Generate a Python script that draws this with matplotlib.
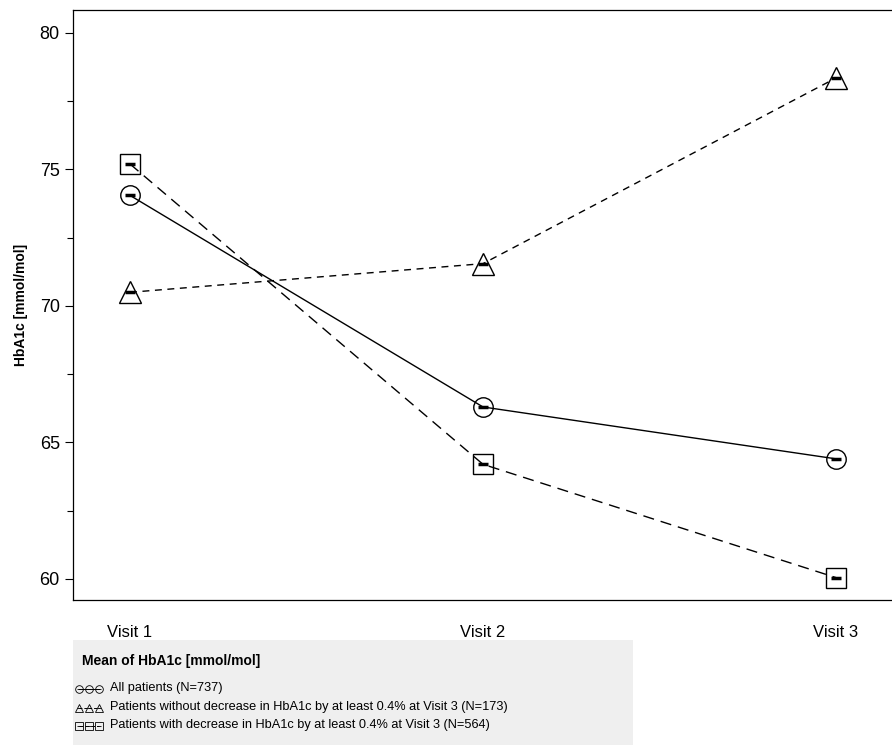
import matplotlib.pyplot as plt
from matplotlib.patches import Rectangle
from matplotlib.lines import Line2D

plt.rcParams['font.family'] = ['Liberation Sans', 'DejaVu Sans']

visits = ['Visit 1', 'Visit 2', 'Visit 3']
all_patients = [74.05, 66.3, 64.4]
no_decrease = [70.5, 71.55, 78.35]
with_decrease = [75.2, 64.2, 60.05]

labels = ['All patients (N=737)',
          'Patients without decrease in HbA1c by at least 0.4% at Visit 3 (N=173)',
          'Patients with decrease in HbA1c by at least 0.4% at Visit 3 (N=564)']

fig = plt.figure(figsize=(8.92, 7.45), dpi=100)
ax = fig.add_axes([73 / 892, 145 / 745, 819 / 892, 590 / 745])

x = [1, 2, 3]
series = [
    (all_patients, 'o', '-', None),
    (no_decrease, '^', '--', (5, 4)),
    (with_decrease, 's', '--', (8, 5)),
]
for vals, mk, ls, dash in series:
    line, = ax.plot(x, vals, color='black', lw=1, ls=ls, marker=mk,
                    markersize=14 if mk != '^' else 16, markerfacecolor='none',
                    markeredgecolor='black', markeredgewidth=1)
    if dash:
        line.set_dashes(dash)
    # mean bar inside the marker
    ax.plot(x, vals, ls='none', marker='_', markersize=7,
            markeredgewidth=2.5, color='black')

ax.set_xlim(1 - 57 / 353, 3 + 56 / 353)
ax.set_ylim(59.23, 80.84)
ax.set_xticks(x)
ax.set_xticklabels(visits, fontsize=12)
ax.tick_params(axis='x', length=0, pad=18)
ax.set_yticks([60, 65, 70, 75, 80])
ax.set_yticks([62.5, 67.5, 72.5, 77.5], minor=True)
ax.tick_params(axis='y', which='major', length=6, labelsize=13, width=0.8)
ax.tick_params(axis='y', which='minor', length=4, width=0.8)
ax.spines['right'].set_visible(False)
for s in ['left', 'top', 'bottom']:
    ax.spines[s].set_linewidth(0.9)
ax.set_ylabel('HbA1c [mmol/mol]', fontsize=10, fontweight='bold', labelpad=8)

# legend box
fig.patches.append(Rectangle((73 / 892, 0), 560 / 892, 105 / 745,
                             transform=fig.transFigure, facecolor='#efefef',
                             edgecolor='none', zorder=0))
fig.text(82 / 892, 1 - 661 / 745, 'Mean of HbA1c [mmol/mol]', fontsize=10,
         fontweight='bold', va='center')

ys = [689, 708, 726]
mks = ['o', '^', 's']
lss = [None, (3, 2), (4, 2)]
for yy, mk, dash, lab in zip(ys, mks, lss, labels):
    yf = 1 - yy / 745
    xs = [79 / 892, 89 / 892, 99 / 892]
    ln = Line2D(xs, [yf] * 3, transform=fig.transFigure, color='black', lw=0.7,
                marker=mk, markersize=5.5, markerfacecolor='none',
                markeredgewidth=0.6)
    if dash:
        ln.set_dashes(dash)
    fig.lines.append(ln)
    fig.lines.append(Line2D(xs, [yf] * 3, transform=fig.transFigure, ls='none',
                            marker='_', markersize=3, markeredgewidth=0.6,
                            color='black'))
    fig.text(110 / 892, yf + 0.002, lab, fontsize=9.2, va='center')

fig.savefig('out.png', dpi=100)
